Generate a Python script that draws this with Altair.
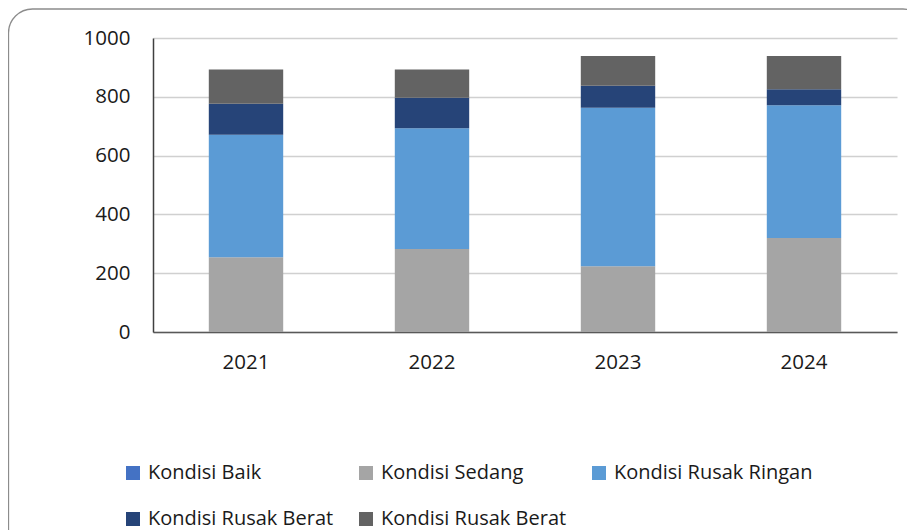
import altair as alt
import pandas as pd

years = ["2021", "2022", "2023", "2024"]
categories = ["Kondisi Baik", "Kondisi Sedang", "Kondisi Rusak Ringan",
              "Kondisi Rusak Berat", "Kondisi Rusak Berat (2)"]
baik = [0, 0, 0, 0]
sedang = [254, 282, 224, 320]
ringan = [417, 411, 539, 451]
berat = [105, 104, 75, 55]
berat2 = [117, 96, 101, 113]
colors = ["#4472C4", "#A5A5A5", "#5B9BD5", "#264478", "#636363"]

series = [baik, sedang, ringan, berat, berat2]
rows = []
for ci, (cat, vals) in enumerate(zip(categories, series)):
    for y, v in zip(years, vals):
        rows.append({"Tahun": y, "Kategori": cat, "Nilai": v, "urut": ci})
df = pd.DataFrame(rows)

FONT = "Open Sans"
TXT = "#1a1a1a"

frame = alt.Chart(alt.Data(values=[{}])).mark_rect(
    fill="transparent", stroke="#8c8c8c", strokeWidth=1.3, cornerRadius=24, clip=False
).encode(
    x=alt.value(-144.5), x2=alt.value(774),
    y=alt.value(-29), y2=alt.value(600)
)

bars = alt.Chart(df).mark_bar().encode(
    x=alt.X("Tahun:N", sort=years, title=None,
            scale=alt.Scale(paddingInner=0.6, paddingOuter=0.3),
            axis=alt.Axis(labelAngle=0, ticks=False, labelPadding=20,
                          labelFontSize=20.5, labelFont=FONT, labelColor=TXT,
                          domainColor="#595959", domainWidth=1.5, grid=False)),
    y=alt.Y("Nilai:Q", stack="zero", title=None,
            scale=alt.Scale(domain=[0, 1000], nice=False),
            axis=alt.Axis(values=[0, 200, 400, 600, 800, 1000], ticks=False,
                          format="d",
                          labelPadding=23, labelFontSize=20.5, labelFont=FONT,
                          labelColor=TXT, domainColor="#404040", domainWidth=1.5,
                          gridColor="#d0d0d0", gridWidth=1.5)),
    color=alt.Color("Kategori:N",
                    scale=alt.Scale(domain=categories, range=colors),
                    legend=alt.Legend(
                        title=None, orient="none", legendX=-30, legendY=425,
                        direction="horizontal", columns=3, columnPadding=22,
                        rowPadding=26, padding=0,
                        symbolType="square", symbolSize=196, symbolStrokeWidth=0,
                        labelFontSize=20, labelFont=FONT, labelColor=TXT,
                        labelOffset=5, labelLimit=400,
                        labelExpr="datum.label == 'Kondisi Rusak Berat (2)' ? 'Kondisi Rusak Berat' : datum.label")),
    order=alt.Order("urut:Q", sort="ascending"),
)

chart = alt.layer(frame, bars).properties(
    width=744, height=294,
    padding={"left": 145, "top": 30, "right": 10, "bottom": 198},
    autosize=alt.AutoSizeParams(type="none"),
    background="white",
).configure_view(stroke=None)

chart.save("out.html", embed_options={"renderer": "svg", "actions": False})
